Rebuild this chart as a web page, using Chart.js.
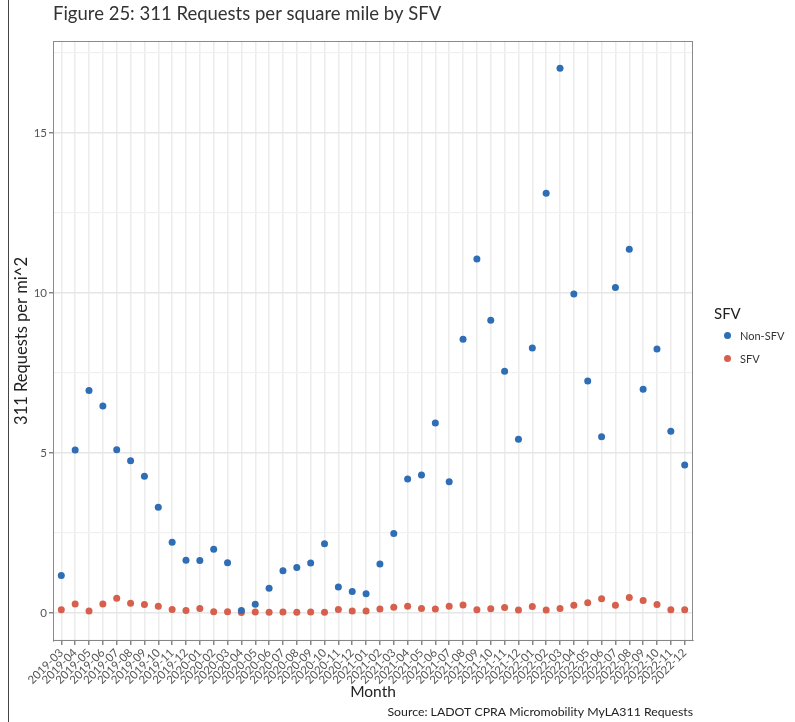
<!DOCTYPE html>
<html lang="en">
<head>
  <meta charset="UTF-8" />
  <title>311 Requests per square mile by SFV</title>
  <script src="https://cdn.jsdelivr.net/npm/chart.js"></script>
  <style>
    body { margin: 0; background: #fff; font-family: Lato, "Open Sans", sans-serif; }
    #wrap { position: relative; width: 795px; height: 722px; }
    #edge { position: absolute; left: 8px; top: 0; width: 1px; height: 722px; background: #444; }
    #legend { position: absolute; left: 714px; top: 302px; color: #222; }
    #legend .ttl { font-size: 15px; line-height: 22px; }
    #legend .item { display: flex; align-items: center; height: 23px; font-size: 11px; color: #333; }
    #legend .dot { width: 7px; height: 7px; border-radius: 50%; margin: 0 9px 0 10px; }
  </style>
</head>
<body>
  <div id="wrap">
    <canvas id="chart" width="795" height="722"></canvas>
    <div id="edge"></div>
    <div id="legend"><div class="ttl">SFV</div></div>
  </div>

  <script>
    const months = [
      '2019-03','2019-04','2019-05','2019-06','2019-07','2019-08','2019-09','2019-10','2019-11','2019-12',
      '2020-01','2020-02','2020-03','2020-04','2020-05','2020-06','2020-07','2020-08','2020-09','2020-10','2020-11','2020-12',
      '2021-01','2021-02','2021-03','2021-04','2021-05','2021-06','2021-07','2021-08','2021-09','2021-10','2021-11','2021-12',
      '2022-01','2022-02','2022-03','2022-04','2022-05','2022-06','2022-07','2022-08','2022-09','2022-10','2022-11','2022-12'
    ];
    const nonSfv = [
      1.17, 5.09, 6.95, 6.47, 5.1, 4.76, 4.27, 3.3, 2.21, 1.65,
      1.64, 1.99, 1.57, 0.08, 0.27, 0.77, 1.32, 1.42, 1.56, 2.16, 0.81, 0.67,
      0.6, 1.53, 2.48, 4.19, 4.31, 5.94, 4.1, 8.55, 11.06, 9.15, 7.55, 5.43,
      8.28, 13.12, 17.02, 9.97, 7.25, 5.51, 10.17, 11.37, 6.99, 8.25, 5.68, 4.62
    ];
    const sfv = [
      0.1, 0.28, 0.06, 0.28, 0.46, 0.3, 0.26, 0.21, 0.11, 0.08,
      0.14, 0.04, 0.04, 0.01, 0.03, 0.02, 0.03, 0.02, 0.03, 0.02, 0.11, 0.06,
      0.06, 0.12, 0.18, 0.21, 0.14, 0.12, 0.21, 0.25, 0.1, 0.13, 0.17, 0.09,
      0.2, 0.09, 0.14, 0.24, 0.32, 0.44, 0.24, 0.48, 0.39, 0.26, 0.1, 0.1
    ];
    const yTicks = [0, 2.5, 5, 7.5, 10, 12.5, 15, 17.5];

    const blue = '#2f6db5';
    const red = '#d6604d';
    const font = 'Lato, "Open Sans", sans-serif';

    const toPoints = vals => vals.map((v, i) => ({ x: i, y: v }));

    // panel border (ggplot theme_light style box)
    const panelBox = {
      id: 'panelBox',
      afterDatasetsDraw(chart) {
        const { ctx, chartArea: a } = chart;
        ctx.save();
        ctx.strokeStyle = '#8a8a8a';
        ctx.lineWidth = 1;
        ctx.strokeRect(a.left + 0.5, a.top + 0.5, a.right - a.left - 1, a.bottom - a.top - 1);
        ctx.restore();
      }
    };

    const chart = new Chart(document.getElementById('chart'), {
      type: 'scatter',
      data: {
        datasets: [
          { label: 'Non-SFV', data: toPoints(nonSfv), backgroundColor: blue, borderColor: blue, pointRadius: 3.5, borderWidth: 0 },
          { label: 'SFV', data: toPoints(sfv), backgroundColor: red, borderColor: red, pointRadius: 3.5, borderWidth: 0 }
        ]
      },
      options: {
        responsive: false,
        animation: false,
        layout: { padding: { left: 8, right: 102, top: 0, bottom: 0 } },
        plugins: {
          legend: { display: false },
          tooltip: { enabled: false },
          title: {
            display: true,
            text: 'Figure 25: 311 Requests per square mile by SFV',
            align: 'start',
            fullSize: false,
            color: '#333',
            font: { family: font, size: 18.5, weight: 'normal' },
            padding: { top: 3, bottom: 15.8 }
          },
          subtitle: {
            display: true,
            position: 'bottom',
            text: 'Source: LADOT CPRA Micromobility MyLA311 Requests',
            align: 'end',
            fullSize: false,
            color: '#222',
            font: { family: font, size: 12.3 },
            padding: { top: 0, bottom: 3 }
          }
        },
        scales: {
          x: {
            type: 'linear',
            min: -0.6,
            max: 45.6,
            afterBuildTicks: s => { s.ticks = months.map((m, i) => ({ value: i })); },
            afterFit: s => { s.height = 63.3; },
            ticks: {
              autoSkip: false,
              minRotation: 45,
              maxRotation: 45,
              padding: 1,
              color: '#555',
              font: { family: font, size: 11.5 },
              callback: (v, i) => months[i]
            },
            grid: { color: '#ececec', lineWidth: 1.5, tickLength: 4, tickColor: '#888' },
            border: { color: '#555' },
            title: {
              display: true, text: 'Month', color: '#222',
              font: { family: font, size: 15.5 }, padding: { top: 0, bottom: 3.4 }
            }
          },
          y: {
            min: -0.875,
            max: 17.875,
            afterBuildTicks: s => { s.ticks = yTicks.map(v => ({ value: v })); },
            afterFit: s => { s.width = 45; },
            ticks: {
              padding: 2,
              color: '#555',
              font: { family: font, size: 11.5 },
              callback: v => (v % 5 === 0 ? String(v) : '')
            },
            grid: {
              color: ctx => (ctx.tick && ctx.tick.value % 5 === 0 ? '#e6e6e6' : '#f1f1f1'),
              lineWidth: ctx => (ctx.tick && ctx.tick.value % 5 === 0 ? 1.5 : 1.2),
              tickLength: 4,
              tickColor: ctx => (ctx.tick && ctx.tick.value % 5 === 0 ? '#888' : 'rgba(0,0,0,0)')
            },
            border: { color: '#555' },
            title: {
              display: true, text: '311 Requests per mi^2', color: '#222',
              font: { family: font, size: 16.5 }, padding: { top: 4, bottom: 0 }
            }
          }
        }
      },
      plugins: [panelBox]
    });

    // legend built from the datasets
    const legendEl = document.getElementById('legend');
    chart.data.datasets.forEach(ds => {
      const row = document.createElement('div');
      row.className = 'item';
      row.innerHTML = `<span class="dot" style="background:${ds.backgroundColor}"></span>${ds.label}`;
      legendEl.appendChild(row);
    });
  </script>
</body>
</html>
